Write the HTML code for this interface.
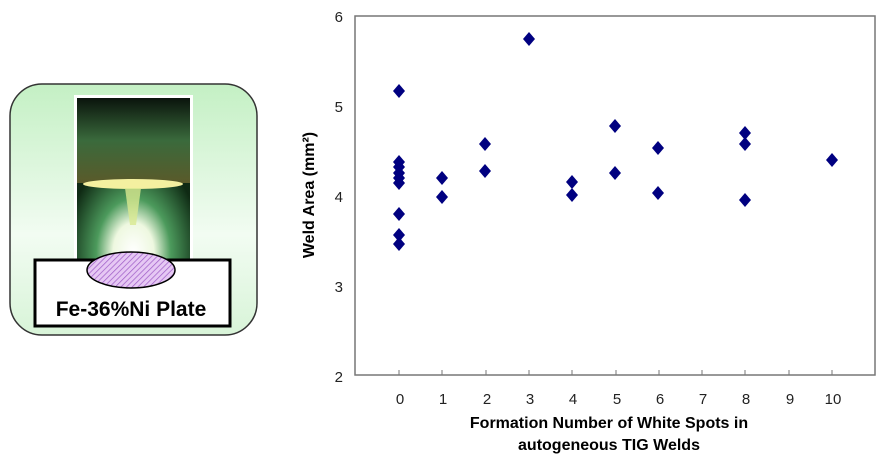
<!DOCTYPE html>
<html><head><meta charset="utf-8"><style>
body{margin:0;background:#fff;width:888px;height:457px;overflow:hidden}
</style></head><body>
<svg width="888" height="457" viewBox="0 0 888 457" xmlns="http://www.w3.org/2000/svg" font-family="Liberation Sans, sans-serif">
<defs>
<linearGradient id="bg" x1="0" y1="0" x2="0" y2="1">
<stop offset="0" stop-color="#c4f0c4"/><stop offset="0.6" stop-color="#f2fcf2"/><stop offset="1" stop-color="#d8f4d8"/>
</linearGradient>
<radialGradient id="glow" cx="0.5" cy="0.95" r="0.6">
<stop offset="0" stop-color="#ffffff"/><stop offset="0.3" stop-color="#eef8e0"/><stop offset="0.55" stop-color="#4c9a5c"/><stop offset="1" stop-color="#0f2a14"/>
</radialGradient>
<linearGradient id="top" x1="0" y1="0" x2="0" y2="1">
<stop offset="0" stop-color="#0a140c"/><stop offset="0.5" stop-color="#3a6a3c"/><stop offset="1" stop-color="#5a5a2a"/>
</linearGradient>
<pattern id="hatch" width="4" height="4" patternUnits="userSpaceOnUse" patternTransform="rotate(45)">
<rect width="4" height="4" fill="#e6c8f4"/><line x1="0" y1="0" x2="0" y2="4" stroke="#a060c8" stroke-width="1.5"/>
</pattern>
</defs>
<rect x="10" y="84" width="247" height="251" rx="32" fill="url(#bg)" stroke="#333" stroke-width="1.5"/>
<rect x="74" y="95" width="119" height="166" fill="#fff"/>
<rect x="77" y="98" width="113" height="162" fill="url(#glow)"/>
<rect x="77" y="98" width="113" height="85" fill="url(#top)"/>
<ellipse cx="133" cy="184" rx="50" ry="5" fill="#f4f0a0"/>
<polygon points="125,188 141,188 136,225 130,225" fill="#d8e890" opacity="0.8"/>
<rect x="35" y="260" width="195" height="66" fill="#fff" stroke="#000" stroke-width="3"/>
<ellipse cx="131" cy="270" rx="44" ry="18" fill="url(#hatch)" stroke="#000" stroke-width="1.5"/>
<text x="131" y="316" text-anchor="middle" font-size="21" font-weight="bold">Fe-36%Ni Plate</text>
<rect x="355" y="16" width="520" height="359" fill="none" stroke="#777" stroke-width="1.5"/>
<g font-size="15" text-anchor="end" fill="#222">
<text x="343" y="22">6</text><text x="343" y="112">5</text><text x="343" y="202">4</text><text x="343" y="292">3</text><text x="343" y="382">2</text>
</g>
<g stroke="#777" stroke-width="1">
<line x1="399" y1="375" x2="399" y2="370"/><line x1="442" y1="375" x2="442" y2="370"/><line x1="486" y1="375" x2="486" y2="370"/><line x1="529" y1="375" x2="529" y2="370"/><line x1="572" y1="375" x2="572" y2="370"/><line x1="616" y1="375" x2="616" y2="370"/><line x1="659" y1="375" x2="659" y2="370"/><line x1="702" y1="375" x2="702" y2="370"/><line x1="745" y1="375" x2="745" y2="370"/><line x1="789" y1="375" x2="789" y2="370"/><line x1="832" y1="375" x2="832" y2="370"/>
</g>
<g font-size="15" text-anchor="middle" fill="#222">
<text x="400" y="404">0</text><text x="443" y="404">1</text><text x="487" y="404">2</text><text x="530" y="404">3</text><text x="573" y="404">4</text><text x="617" y="404">5</text><text x="660" y="404">6</text><text x="703" y="404">7</text><text x="746" y="404">8</text><text x="790" y="404">9</text><text x="833" y="404">10</text>
</g>
<g font-size="16" font-weight="bold" text-anchor="middle">
<text x="609" y="428">Formation Number of White Spots in</text>
<text x="609" y="450">autogeneous TIG Welds</text>
<text transform="translate(314,195) rotate(-90)">Weld Area (mm²)</text>
</g>
<g fill="#000080">
<path d="M0,-7 L6,0 L0,7 L-6,0Z" transform="translate(399,91)"/>
<path d="M0,-7 L6,0 L0,7 L-6,0Z" transform="translate(399,162)"/>
<path d="M0,-7 L6,0 L0,7 L-6,0Z" transform="translate(399,167)"/>
<path d="M0,-7 L6,0 L0,7 L-6,0Z" transform="translate(399,173)"/>
<path d="M0,-7 L6,0 L0,7 L-6,0Z" transform="translate(399,178)"/>
<path d="M0,-7 L6,0 L0,7 L-6,0Z" transform="translate(399,183)"/>
<path d="M0,-7 L6,0 L0,7 L-6,0Z" transform="translate(399,214)"/>
<path d="M0,-7 L6,0 L0,7 L-6,0Z" transform="translate(399,235)"/>
<path d="M0,-7 L6,0 L0,7 L-6,0Z" transform="translate(399,244)"/>
<path d="M0,-7 L6,0 L0,7 L-6,0Z" transform="translate(442,178)"/>
<path d="M0,-7 L6,0 L0,7 L-6,0Z" transform="translate(442,197)"/>
<path d="M0,-7 L6,0 L0,7 L-6,0Z" transform="translate(485,144)"/>
<path d="M0,-7 L6,0 L0,7 L-6,0Z" transform="translate(485,171)"/>
<path d="M0,-7 L6,0 L0,7 L-6,0Z" transform="translate(529,39)"/>
<path d="M0,-7 L6,0 L0,7 L-6,0Z" transform="translate(572,182)"/>
<path d="M0,-7 L6,0 L0,7 L-6,0Z" transform="translate(572,195)"/>
<path d="M0,-7 L6,0 L0,7 L-6,0Z" transform="translate(615,126)"/>
<path d="M0,-7 L6,0 L0,7 L-6,0Z" transform="translate(615,173)"/>
<path d="M0,-7 L6,0 L0,7 L-6,0Z" transform="translate(658,148)"/>
<path d="M0,-7 L6,0 L0,7 L-6,0Z" transform="translate(658,193)"/>
<path d="M0,-7 L6,0 L0,7 L-6,0Z" transform="translate(745,133)"/>
<path d="M0,-7 L6,0 L0,7 L-6,0Z" transform="translate(745,144)"/>
<path d="M0,-7 L6,0 L0,7 L-6,0Z" transform="translate(745,200)"/>
<path d="M0,-7 L6,0 L0,7 L-6,0Z" transform="translate(832,160)"/>
</g>
</svg>
</body></html>
